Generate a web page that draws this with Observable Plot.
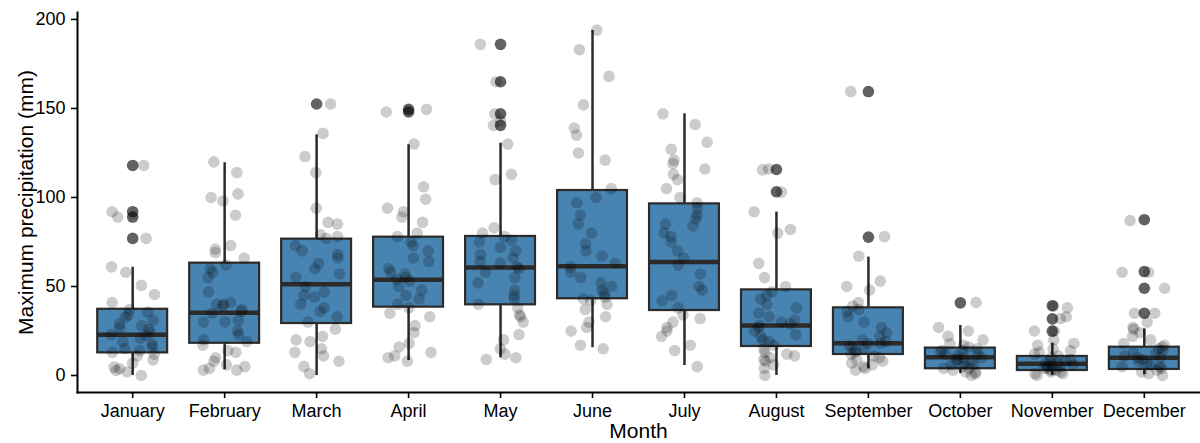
<!DOCTYPE html>
<html>
<head>
<meta charset="utf-8">
<script src="https://cdn.jsdelivr.net/npm/d3@7"></script>
<script src="https://cdn.jsdelivr.net/npm/@observablehq/plot@0.6"></script>
<style>
  html, body { margin: 0; padding: 0; background: #fff; }
  #chart svg { display: block; }
</style>
</head>
<body>
<div id="chart"></div>
<script>
// Categories
const months = ["January","February","March","April","May","June","July","August","September","October","November","December"];

// Box statistics per month (mm)
const q1          = [12.7, 18.1, 29.2, 38.4, 39.7, 43.1, 36.5, 16.3, 11.8, 3.8, 2.8, 3.4];
const median      = [22.9, 35.2, 51.3, 53.8, 60.7, 61.4, 63.7, 28.1, 18.1, 10.3, 6.6, 9.9];
const q3          = [37.2, 63.1, 76.6, 77.7, 78.1, 103.9, 96.4, 48.1, 38.0, 15.4, 10.7, 15.9];
const whiskerLow  = [0, 3.2, 0, 8.4, 9.9, 15.6, 5.6, 0, 3.8, 1, 0, 0.5];
const whiskerHigh = [60.8, 119.5, 135.2, 129.6, 130.5, 193.8, 147, 91.8, 66.5, 28.1, 18.2, 26.2];

// Outliers per month (mm)
const outliers = [[118, 92, 89, 77], [], [152.5], [149.5, 148], [186, 165, 147, 140.5], [], [], [115.7, 103.2], [159.5, 77.7], [40.8], [39.2, 31.8, 24.9], [87.5, 58.4, 49, 35]];

// Observations per month (mm)
const jan = [118, 92, 89, 77, 61, 58, 50.6, 45.5, 41, 37, 35.6, 34, 32.8, 31, 29, 28, 27, 26, 24.3, 23, 22.5, 21, 19, 17.8, 16.3, 15, 14, 13, 12, 11, 8.8, 6.9, 4.7, 3.8, 2.8, 2, 0];
const feb = [120, 114, 102, 100, 98, 90, 73, 71, 69, 66, 62, 60, 58, 55, 47, 41, 40, 40, 39, 37, 36, 35, 31, 30, 30, 25, 23, 20, 19, 17, 14, 13, 10, 8, 6, 5, 4, 3, 3];
const mar = [152.5, 136, 123, 114, 94, 86, 85, 79, 78, 77, 73, 70, 68, 66, 63, 60, 57, 55, 50, 47, 45, 44, 40, 38, 36, 33, 30, 26, 22, 20, 19, 15, 13, 11, 8, 5, 1];
const apr = [149.5, 148, 130, 106, 99, 94, 92, 89, 86, 80, 78, 75, 73, 70, 66, 64, 60, 58, 57, 55, 54, 53, 50, 48, 45, 43, 40, 38, 35, 33, 28, 24, 18, 16, 13, 11, 10, 8];
const may = [186, 165, 147, 143, 140.5, 130, 113, 110, 83, 80, 78, 76, 75, 72, 70, 68, 66, 64, 63, 61, 60, 58, 55, 52, 48, 45, 43, 40, 38, 34, 33, 30, 23, 20, 15, 12, 10, 9];
const jun = [194, 183, 168, 152, 139, 135, 125, 121, 105, 100, 97, 90, 85, 80, 74, 70, 67, 63, 61, 58, 55, 52, 50, 48, 46, 44, 43, 42, 40, 37, 33, 30, 27, 25, 17, 15];
const jul = [147, 141, 131, 127, 121, 119, 116, 113, 110, 105, 100, 97, 94, 90, 88, 85, 84, 80, 78, 75, 70, 66, 62, 57, 50, 48, 45, 42, 38, 34, 32, 30, 27, 25, 22, 17, 14, 5];
const aug = [116, 115.5, 103, 92, 82, 80, 63, 55, 50, 47, 45, 43, 40, 38, 35, 33, 31, 30, 29, 28, 27, 25, 23, 22, 20, 19, 17, 15, 13, 12, 11, 10, 9, 8, 6, 4, 0];
const sep = [159.5, 78, 67, 53, 50, 48, 41, 39, 37, 36, 33, 30, 27, 24, 22, 20, 19, 18, 18, 17, 16, 15, 14, 13, 12, 11, 10, 9, 8, 7, 6, 5, 4, 3];
const oct = [41, 27, 25, 22, 20, 18, 17, 16, 15, 14, 14, 13, 12, 12, 11, 10, 10, 9, 9, 8, 7, 6, 6, 5, 4, 4, 3, 2, 2, 1, 0];
const nov = [39, 38, 33, 32, 25, 25, 20, 18, 17, 15, 14, 13, 12, 11, 10, 9, 8, 8, 7, 7, 6, 6, 5, 5, 4, 4, 3, 3, 2, 2, 1, 1, 0];
const dec = [87, 58, 58, 49, 35, 35, 30, 27, 26, 24, 22, 20, 18, 17, 16, 15, 14, 13, 12, 11, 10, 10, 9, 8, 7, 6, 5, 5, 4, 3, 2, 1, 0];

const observations = [jan, feb, mar, apr, may, jun, jul, aug, sep, oct, nov, dec];

// Tables for the library
const stats = months.map((m, i) => ({i, m, q1: q1[i], med: median[i], q3: q3[i], lo: whiskerLow[i], hi: whiskerHigh[i]}));
const outlierRows = outliers.flatMap((vs, i) => vs.map(v => ({i, v})));
// deterministic horizontal jitter (layout only)
const rng = d3.randomUniform.source(d3.randomLcg(0.4242))(-0.25, 0.25);
const pointRows = observations.flatMap((vs, i) => vs.map(v => ({i, v, jx: i + rng()})));

const half = 0.38;
const ink = "#2b2b2b";
const font = "'Liberation Sans', Arial, sans-serif";

const chart = Plot.plot({
  width: 1200,
  height: 443,
  marginLeft: 77,
  marginRight: 1,
  marginTop: 12,
  marginBottom: 51,
  style: {fontFamily: font, background: "#fff", color: "#000"},
  x: {type: "linear", domain: [-0.6, 11.6], axis: null},
  y: {domain: [-9.55, 203.9], axis: null},
  marks: [
    Plot.ruleX(stats, {x: "i", y1: "lo", y2: "hi", stroke: ink, strokeWidth: 2.5}),
    Plot.rect(stats, {x1: d => d.i - half, x2: d => d.i + half, y1: "q1", y2: "q3", fill: "#4884b2", stroke: ink, strokeWidth: 2.2}),
    Plot.ruleY(stats, {x1: d => d.i - half, x2: d => d.i + half, y: "med", stroke: ink, strokeWidth: 4.5}),
    Plot.dot(outlierRows, {x: "i", y: "v", r: 5.8, fill: "#000", fillOpacity: 0.62, stroke: null}),
    Plot.dot(pointRows, {x: "jx", y: "v", r: 5.8, fill: "#000", fillOpacity: 0.2, stroke: null}),
    Plot.frame({anchor: "left", stroke: "#000", strokeWidth: 2}),
    Plot.frame({anchor: "bottom", stroke: "#000", strokeWidth: 2}),
    Plot.axisY({ticks: [0, 50, 100, 150, 200], tickSize: 6, tickPadding: 6, fontSize: 18, color: "#000", strokeWidth: 1.6, label: null}),
    Plot.axisX({ticks: d3.range(12), tickFormat: i => months[i], tickSize: 6, tickPadding: 6, fontSize: 18, color: "#000", strokeWidth: 1.6, label: null}),
    Plot.text(["Month"], {frameAnchor: "bottom", dy: 39, lineAnchor: "middle", textAnchor: "middle", fontSize: 21, fill: "#000"}),
    Plot.text(["Maximum precipitation (mm)"], {frameAnchor: "left", dx: -51, rotate: -90, lineAnchor: "middle", textAnchor: "middle", fontSize: 21, fill: "#000"})
  ]
});
document.getElementById("chart").append(chart);
</script>
</body>
</html>
